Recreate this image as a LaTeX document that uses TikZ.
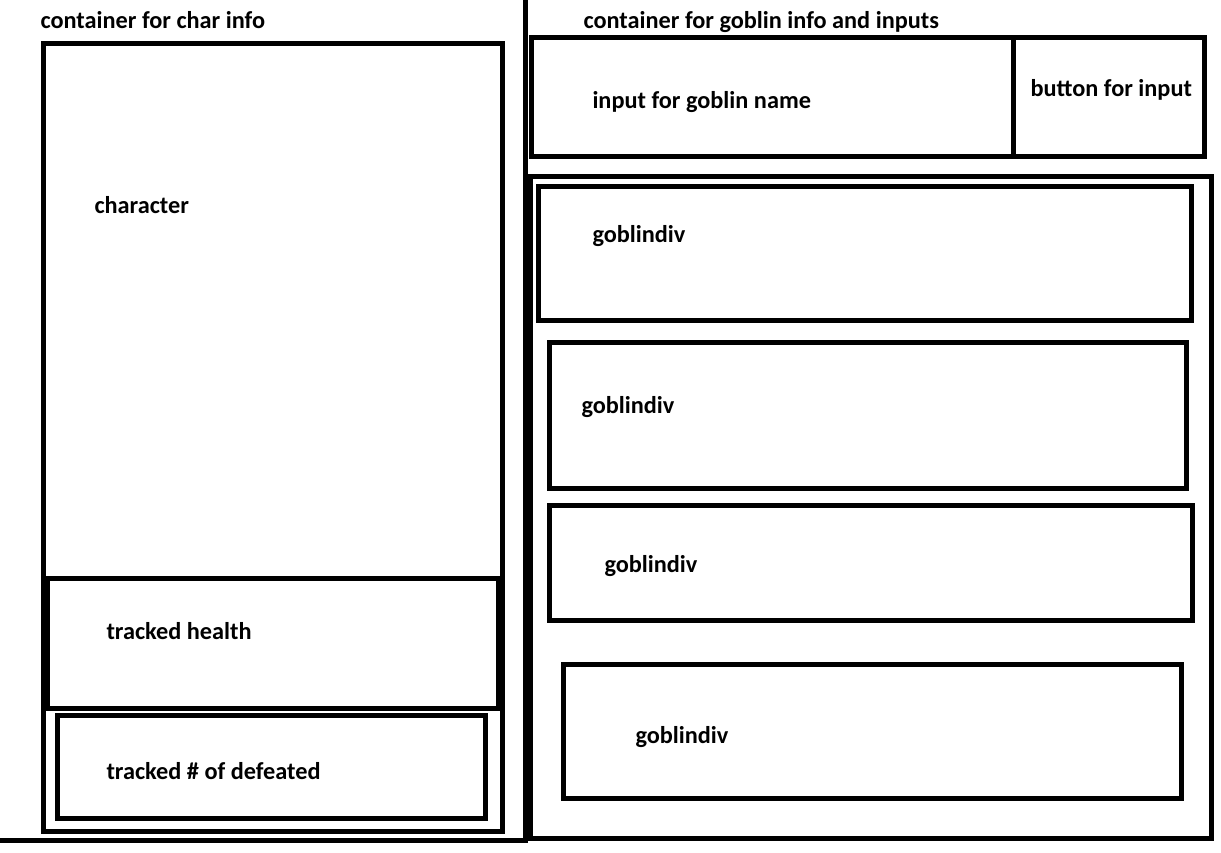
\documentclass[tikz,border=0pt]{standalone}
\usepackage{fontspec}
\setmainfont{Carlito}
\usetikzlibrary{positioning}
\tikzset{
  every picture/.style={line width=5pt, x=1pt, y=-1pt},
  box/.style={draw=black},
  lbl/.style={anchor=base west, inner sep=0pt, font=\bfseries\fontsize{24.3}{28}\selectfont},
}

\begin{document}
\begin{tikzpicture}
  \useasboundingbox[fill=white] (0,0) rectangle (1221,852);
  % char info side
  \draw[box] (525.5,0) |- (0,840);
  \node[lbl] (charTitle) at (38,28) {container for char info};
  \draw[box] (43.5,43.5) rectangle (502.5,831);
  \node[lbl] (charLbl) at (92,213) {character};
  \draw[box] (47.5,578) rectangle (498,708);
  \node[lbl] (healthLbl) at (104,639) {tracked health};
  \draw[box] (57.5,715) rectangle (485,818);
  \node[lbl] (defeatLbl) at (104,779) {tracked \# of defeated};
  % goblin info side
  \node[lbl] (goblinTitle) at (581,28) {container for goblin info and inputs};
  \draw[box] (531.5,37) rectangle (1204,156.5);
  \draw[box] (1013,37) -- (1013,156.5);
  \node[lbl] (nameLbl) at (590,108) {input for goblin name};
  \node[lbl] (btnLbl) at (1028,96) {button for input};
  \draw[box] (530,176) rectangle (1211,838.5);
  \foreach \i/\l/\t/\r/\b/\tx/\ty in {1/538.5/186.5/1191/320.5/590/242,
                                     2/549.5/342.5/1186.5/488/579/413,
                                     3/549.5/505.5/1192/620/602/572,
                                     4/563.5/664.5/1181/798.5/633/743} {
    \draw[box] (\l,\t) rectangle (\r,\b);
    \node[lbl] (gob\i) at (\tx,\ty) {goblindiv};
  }
\end{tikzpicture}
\end{document}
